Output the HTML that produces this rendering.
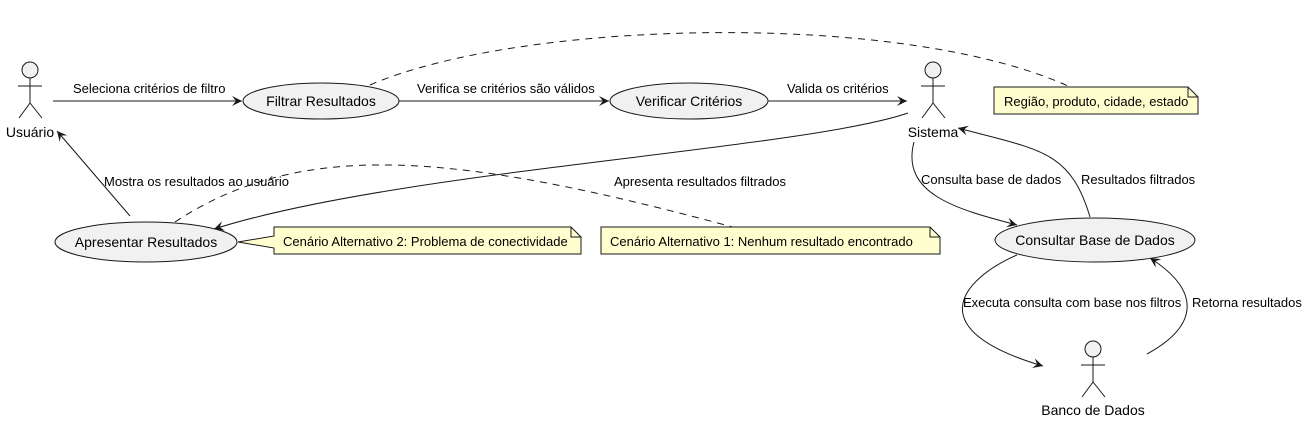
<!DOCTYPE html>
<html><head><meta charset="utf-8"><style>
html,body{margin:0;padding:0;background:#fff;}
svg{display:block;}
text{font-family:"Liberation Sans",sans-serif;font-size:13px;fill:#000;}
</style></head><body>
<svg width="1307" height="422" viewBox="0 0 1307 422" xmlns="http://www.w3.org/2000/svg">
<defs>
<marker id="a" markerWidth="12" markerHeight="10" refX="10" refY="5" orient="auto" markerUnits="userSpaceOnUse">
<path d="M0,0 L10,5 L0,10 L4,5 Z" fill="#181818"/>
</marker>
</defs>
<g stroke="#181818" fill="none" stroke-width="1">
<path d="M370,85 C520,20 900,10 1068,86" stroke-dasharray="7,6"/>
<path d="M175,222 C300,140 450,150 740,229" stroke-dasharray="7,6"/>
<path d="M53,101 L242,101" marker-end="url(#a)"/>
<path d="M399,101 L609,101" marker-end="url(#a)"/>
<path d="M768,101 L907,101" marker-end="url(#a)"/>
<path d="M908,113 C800,150 400,170 214,229" marker-end="url(#a)"/>
<path d="M130,216 L57,131" marker-end="url(#a)"/>
<path d="M914,142 C900,195 960,210 1017,225" marker-end="url(#a)"/>
<path d="M1090,217 C1070,150 1040,150 958,128" marker-end="url(#a)"/>
<path d="M1017,255 C960,280 920,330 1043,366" marker-end="url(#a)"/>
<path d="M1147,354 C1200,325 1200,290 1150,258" marker-end="url(#a)"/>
</g>
<g stroke="#181818" stroke-width="1" fill="#f1f1f1">
<circle cx="30" cy="70" r="8"/>
<path d="M30,78 V103 M18,86 H42 M30,103 L19,118 M30,103 L42,118" fill="none"/>
<circle cx="933" cy="70" r="8"/>
<path d="M933,78 V103 M921,86 H945 M933,103 L922,118 M933,103 L945,118" fill="none"/>
<circle cx="1093" cy="349" r="8"/>
<path d="M1093,357 V382 M1081,365 H1105 M1093,382 L1082,397 M1093,382 L1105,397" fill="none"/>
</g>
<text x="30" y="137" text-anchor="middle" style="font-size:14px">Usuário</text>
<text x="933" y="137" text-anchor="middle" style="font-size:14px">Sistema</text>
<text x="1093" y="415" text-anchor="middle" style="font-size:14px">Banco de Dados</text>
<g stroke="#181818" fill="#f1f1f1">
<ellipse cx="321" cy="101" rx="78" ry="18"/>
<ellipse cx="689" cy="101" rx="79" ry="18"/>
<ellipse cx="146" cy="242" rx="91" ry="20"/>
<ellipse cx="1095" cy="240" rx="100" ry="22"/>
</g>
<g text-anchor="middle">
<text x="321" y="106" style="font-size:14px">Filtrar Resultados</text>
<text x="689" y="106" style="font-size:14px">Verificar Critérios</text>
<text x="146" y="247" style="font-size:14px">Apresentar Resultados</text>
<text x="1095" y="245" style="font-size:14px">Consultar Base de Dados</text>
</g>
<g stroke="#181818" fill="#fefece" stroke-width="1">
<path d="M994,87 H1188 L1198,97 V114 H994 Z"/>
<path d="M1188,87 V97 H1198" fill="none"/>
<path d="M274,227 H571 L581,237 V254 H274 V248 L238,242 L274,236 Z"/>
<path d="M571,227 V237 H581" fill="none"/>
<path d="M601,227 H930 L940,237 V254 H601 Z"/>
<path d="M930,227 V237 H940" fill="none"/>
</g>
<text x="1004" y="106">Região, produto, cidade, estado</text>
<text x="283" y="246">Cenário Alternativo 2: Problema de conectividade</text>
<text x="610" y="246">Cenário Alternativo 1: Nenhum resultado encontrado</text>
<text x="73" y="93">Seleciona critérios de filtro</text>
<text x="417" y="93">Verifica se critérios são válidos</text>
<text x="787" y="93">Valida os critérios</text>
<text x="104" y="186">Mostra os resultados ao usuário</text>
<text x="614" y="186">Apresenta resultados filtrados</text>
<text x="921" y="184">Consulta base de dados</text>
<text x="1081" y="184">Resultados filtrados</text>
<text x="963" y="307">Executa consulta com base nos filtros</text>
<text x="1192" y="307">Retorna resultados</text>
</svg>
</body></html>
